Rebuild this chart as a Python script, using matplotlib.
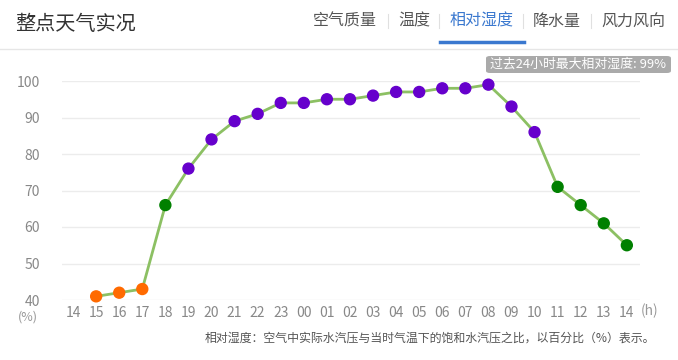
import numpy as np
import matplotlib.pyplot as plt
from matplotlib.patches import FancyBboxPatch

plt.rcParams['font.family'] = ['Noto Sans CJK SC', 'DejaVu Sans']

hours = ['14', '15', '16', '17', '18', '19', '20', '21', '22', '23', '00', '01', '02',
         '03', '04', '05', '06', '07', '08', '09', '10', '11', '12', '13', '14']
humidity = [None, 41, 42, 43, 66, 76, 84, 89, 91, 94, 94, 95, 95,
            96, 97, 97, 98, 98, 99, 93, 86, 71, 66, 61, 55]
tabs = ['空气质量', '温度', '相对湿度', '降水量', '风力风向']


def point_color(v):
    if v < 50:
        return '#ff6a00'
    if v < 75:
        return '#008000'
    return '#6600cc'


W, H = 678, 360
fig = plt.figure(figsize=(W / 100, H / 100), dpi=100)

# header
fig.text(15 / W, 1 - 24 / H, '整点天气实况', fontsize=14.5, color='#333333', va='center')
tab_x = [345, 414, 482, 557, 633]
for t, x in zip(tabs, tab_x):
    c = '#3a78cf' if t == '相对湿度' else '#555555'
    fig.text(x / W, 1 - 21 / H, t, fontsize=11.5, color=c, ha='center', va='center')
for x in [388, 439, 523, 591]:
    fig.add_artist(plt.Line2D([x / W, x / W], [1 - 14 / H, 1 - 28 / H], color='#e0e0e0', lw=0.8))
fig.add_artist(plt.Line2D([440 / W, 524 / W], [1 - 42 / H, 1 - 42 / H], color='#3a78cf', lw=2.5))
fig.add_artist(plt.Line2D([0, 1], [1 - 49 / H, 1 - 49 / H], color='#e6e6e6', lw=1))

# chart
x = np.arange(len(hours))
ax = fig.add_axes([62 / W, 1 - 300 / H, (640 - 62) / W, (300 - 81) / H])
ax.set_xlim(-0.48, 24.57)
ax.set_ylim(40, 100)
ax.set_yticks(range(40, 101, 10))
ax.set_xticks(x)
ax.set_xticklabels(hours)
ax.grid(axis='y', color='#ececec', lw=1)
ax.set_axisbelow(True)
for s in ax.spines.values():
    s.set_visible(False)
ax.tick_params(length=0, colors='#888888', labelsize=10)
ax.tick_params(axis='x', pad=4)
ax.tick_params(axis='y', pad=16)

xs = [i for i, v in enumerate(humidity) if v is not None]
vs = [v for v in humidity if v is not None]
ax.plot(xs, vs, color='#8cc063', lw=2, zorder=2, clip_on=False)
ax.scatter(xs, vs, s=62, c=[point_color(v) for v in vs], zorder=3, clip_on=False)

fig.text(28 / W, 1 - 317 / H, '(%)', fontsize=9, color='#999999', ha='center', va='center')
fig.text(650 / W, 1 - 311 / H, '(h)', fontsize=10, color='#999999', ha='center', va='center')

# badge
badge = FancyBboxPatch((486 / W, 1 - 73 / H), 185 / W, 17 / H,
                       boxstyle='round,pad=0,rounding_size=0.006',
                       transform=fig.transFigure, color='#aaaaaa', lw=0)
fig.add_artist(badge)
fig.text(578 / W, 1 - 64.5 / H, '过去24小时最大相对湿度: 99%', fontsize=9.3, color='white',
         ha='center', va='center')

fig.text(205 / W, 1 - 338 / H,
         '相对湿度：空气中实际水汽压与当时气温下的饱和水汽压之比，以百分比（%）表示。',
         fontsize=8.6, color='#555555', va='center')

fig.savefig('out.png', dpi=100)
